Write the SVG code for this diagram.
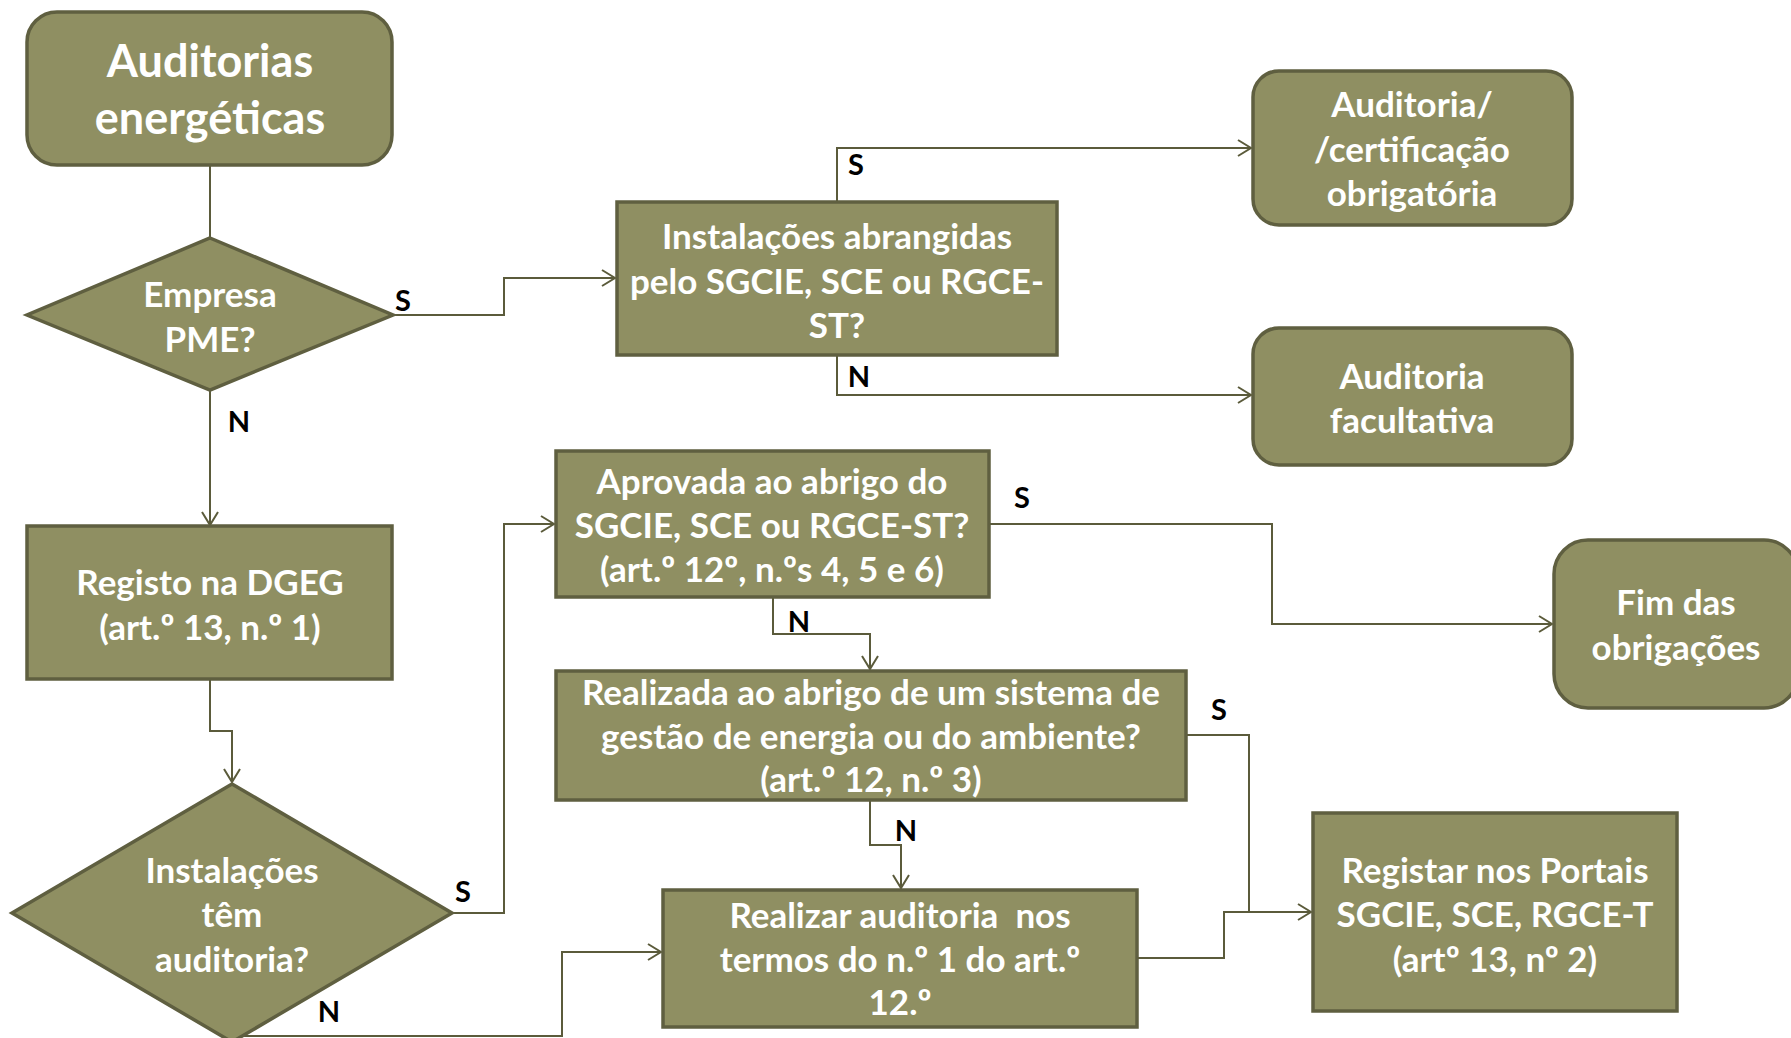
<svg xmlns="http://www.w3.org/2000/svg" width="1791" height="1038" viewBox="0 0 1791 1038">
<defs>
<marker id="arr" markerUnits="userSpaceOnUse" markerWidth="20" markerHeight="20" refX="14" refY="9" orient="auto">
<path d="M1,1 L14,9 L1,17" fill="none" stroke="#5b5b3b" stroke-width="2"/>
</marker>
<style>
.n{fill:#8f8f62;stroke:#5f5f40;stroke-width:3.5}
.t{font-family:Lato,"Open Sans",sans-serif;font-weight:bold;fill:#fff;text-anchor:middle;font-size:35px}
.big{font-size:45px}
.l{font-family:Lato,"Open Sans",sans-serif;font-weight:bold;fill:#000;font-size:29px;text-anchor:middle}
.c{fill:none;stroke:#5b5b3b;stroke-width:2}
</style>
</defs>
<rect width="1791" height="1038" fill="#fff"/>
<g id="connectors">
<path class="c" d="M210,165 V238"/>
<path class="c" d="M393,315 H504 V278 H615" marker-end="url(#arr)"/>
<path class="c" d="M210,390 V525" marker-end="url(#arr)"/>
<path class="c" d="M837,202 V148 H1251" marker-end="url(#arr)"/>
<path class="c" d="M837,355 V395 H1251" marker-end="url(#arr)"/>
<path class="c" d="M210,679 V731 H232 V782" marker-end="url(#arr)"/>
<path class="c" d="M452,913 H504 V524 H554" marker-end="url(#arr)"/>
<path class="c" d="M232,1036 H562 V952 H661" marker-end="url(#arr)"/>
<path class="c" d="M989,524 H1272 V624 H1552" marker-end="url(#arr)"/>
<path class="c" d="M773,597 V634 H870 V669" marker-end="url(#arr)"/>
<path class="c" d="M1186,735 H1249 V912 H1311" marker-end="url(#arr)"/>
<path class="c" d="M870,800 V845 H901 V888" marker-end="url(#arr)"/>
<path class="c" d="M1137,958 H1224 V912 H1249"/>
<text class="l" x="403" y="311">S</text>
<text class="l" x="239" y="432">N</text>
<text class="l" x="856" y="175">S</text>
<text class="l" x="859" y="387">N</text>
<text class="l" x="1022" y="508">S</text>
<text class="l" x="799" y="632">N</text>
<text class="l" x="1219" y="720">S</text>
<text class="l" x="906" y="841">N</text>
<text class="l" x="463" y="902">S</text>
<text class="l" x="329" y="1022">N</text>
</g>
<g id="start">
<rect class="n" x="27" y="12" width="365" height="153" rx="30"/>
<text class="t big" x="210" y="77">Auditorias</text>
<text class="t big" x="210" y="134">energéticas</text>
</g>
<g id="pme">
<polygon class="n" points="210,238 393,315 210,390 27,315"/>
<text class="t" x="210" y="307">Empresa</text>
<text class="t" x="210" y="352">PME?</text>
</g>
<g id="abrangidas">
<rect class="n" x="617" y="202" width="440" height="153"/>
<text class="t" x="837" y="249">Instalações abrangidas</text>
<text class="t" x="837" y="294">pelo SGCIE, SCE ou RGCE-</text>
<text class="t" x="837" y="338">ST?</text>
</g>
<g id="obrigatoria">
<rect class="n" x="1253" y="71" width="319" height="154" rx="26"/>
<text class="t" x="1412" y="117">Auditoria/</text>
<text class="t" x="1412" y="162">/certificação</text>
<text class="t" x="1412" y="206">obrigatória</text>
</g>
<g id="facultativa">
<rect class="n" x="1253" y="328" width="319" height="137" rx="26"/>
<text class="t" x="1412" y="389">Auditoria</text>
<text class="t" x="1412" y="433">facultativa</text>
</g>
<g id="registo">
<rect class="n" x="27" y="526" width="365" height="153"/>
<text class="t" x="210" y="595">Registo na DGEG</text>
<text class="t" x="210" y="640">(art.º 13, n.º 1)</text>
</g>
<g id="tem">
<polygon class="n" points="232,784 452,913 232,1042 12,913"/>
<text class="t" x="232" y="883">Instalações</text>
<text class="t" x="232" y="927">têm</text>
<text class="t" x="232" y="972">auditoria?</text>
</g>
<g id="aprovada">
<rect class="n" x="556" y="451" width="433" height="146"/>
<text class="t" x="772" y="494">Aprovada ao abrigo do</text>
<text class="t" x="772" y="538">SGCIE, SCE ou RGCE-ST?</text>
<text class="t" x="772" y="582">(art.º 12º, n.ºs 4, 5 e 6)</text>
</g>
<g id="fim">
<rect class="n" x="1554" y="540" width="244" height="168" rx="34"/>
<text class="t" x="1676" y="615">Fim das</text>
<text class="t" x="1676" y="660">obrigações</text>
</g>
<g id="realizada">
<rect class="n" x="556" y="671" width="630" height="129"/>
<text class="t" x="871" y="705">Realizada ao abrigo de um sistema de</text>
<text class="t" x="871" y="749">gestão de energia ou do ambiente?</text>
<text class="t" x="871" y="792">(art.º 12, n.º 3)</text>
</g>
<g id="realizar">
<rect class="n" x="663" y="890" width="474" height="137"/>
<text class="t" x="900" y="928" xml:space="preserve">Realizar auditoria  nos</text>
<text class="t" x="900" y="972">termos do n.º 1 do art.º</text>
<text class="t" x="900" y="1015">12.º</text>
</g>
<g id="registar">
<rect class="n" x="1313" y="813" width="364" height="198"/>
<text class="t" x="1495" y="883">Registar nos Portais</text>
<text class="t" x="1495" y="927">SGCIE, SCE, RGCE-T</text>
<text class="t" x="1495" y="972">(artº 13, nº 2)</text>
</g>
</svg>
